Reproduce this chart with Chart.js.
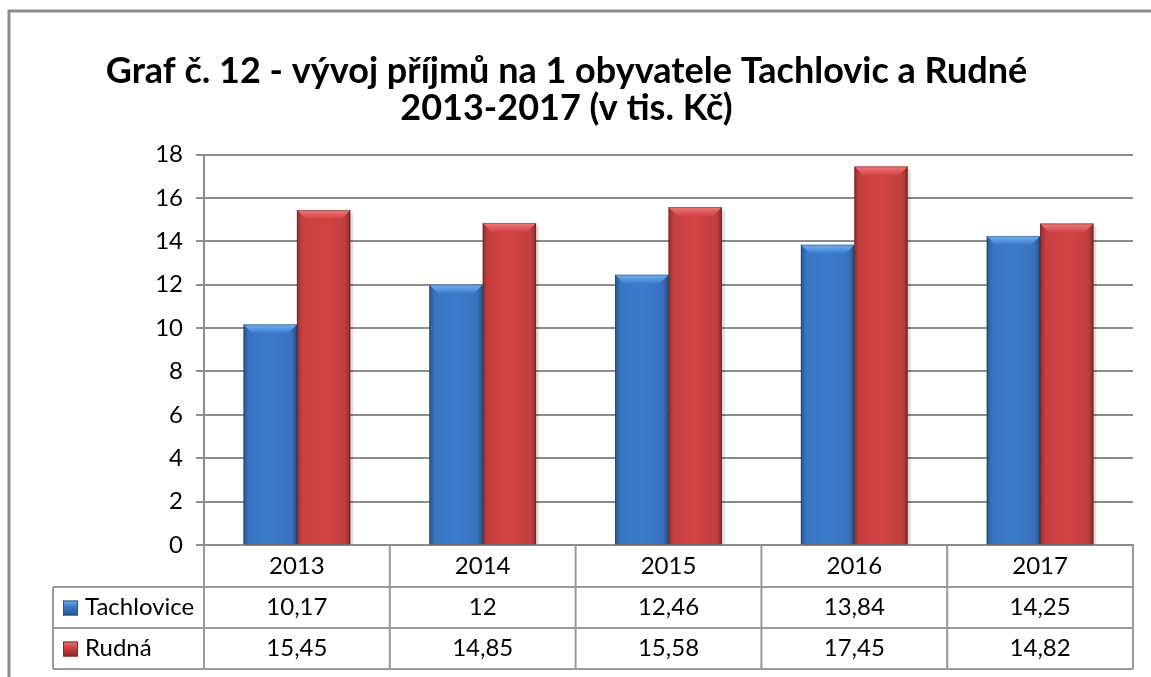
<!DOCTYPE html>
<html>
<head>
<meta charset="utf-8">
<script src="https://cdn.jsdelivr.net/npm/chart.js@4.4.1/dist/chart.umd.min.js"></script>
<style>
  html, body { margin: 0; padding: 0; background: #fff; }
  #wrap { width: 1151px; height: 677px; position: relative; }
</style>
</head>
<body>
<div id="wrap"><canvas id="graf"></canvas></div>
<script>
// data
const roky = ['2013', '2014', '2015', '2016', '2017'];
const tachlovice = [10.17, 12, 12.46, 13.84, 14.25];
const rudna = [15.45, 14.85, 15.58, 17.45, 14.82];
const nazvy = ['Tachlovice', 'Rudná'];
const titulek = ['Graf č. 12 - vývoj příjmů na 1 obyvatele Tachlovic a Rudné', '2013-2017 (v tis. Kč)'];
const osaY = [0, 2, 4, 6, 8, 10, 12, 14, 16, 18];

const FONT = 'Lato, "Open Sans", sans-serif';
const barvy = [
  { body: '#3c7bcd', dark: '#24558f', light: '#74b2ee' },
  { body: '#d24343', dark: '#8f2525', light: '#ee7a7a' }
];

const fmt = v => String(v).replace('.', ',');

// ramecek kolem grafu
const ramecek = {
  id: 'ramecek',
  beforeDraw(chart) {
    const ctx = chart.ctx;
    ctx.save();
    ctx.strokeStyle = '#8c8c8c';
    ctx.lineWidth = 3;
    ctx.strokeRect(9, 11, 1300, 800);
    ctx.restore();
  }
};

// 3D efekt sloupcu (zkoseny horni okraj, tmave hrany)
const bevel = {
  id: 'bevel',
  beforeDatasetsDraw(chart) {
    const ctx = chart.ctx;
    ctx.save();
    chart.data.datasets.forEach((ds, di) => {
      chart.getDatasetMeta(di).data.forEach(el => {
        const p = el.getProps(['x', 'y', 'base', 'width'], true);
        ctx.fillStyle = 'rgba(0,0,0,0.12)';
        ctx.fillRect(p.x - p.width / 2 + 3, p.y + 3, p.width, p.base - p.y - 3);
      });
    });
    ctx.restore();
  },
  afterDatasetsDraw(chart) {
    const ctx = chart.ctx;
    ctx.save();
    chart.data.datasets.forEach((ds, di) => {
      const c = barvy[di];
      chart.getDatasetMeta(di).data.forEach(el => {
        const p = el.getProps(['x', 'y', 'base', 'width'], true);
        const l = p.x - p.width / 2, r = p.x + p.width / 2, t = p.y, b = p.base;
        const g = ctx.createLinearGradient(l, 0, r, 0);
        g.addColorStop(0, 'rgba(0,0,0,0.3)');
        g.addColorStop(0.1, 'rgba(0,0,0,0.06)');
        g.addColorStop(0.5, 'rgba(0,0,0,0)');
        g.addColorStop(0.9, 'rgba(0,0,0,0.08)');
        g.addColorStop(1, 'rgba(0,0,0,0.35)');
        ctx.fillStyle = g;
        ctx.fillRect(l, t, r - l, b - t);
        const bv = 9;
        const gt = ctx.createLinearGradient(0, t, 0, t + bv);
        gt.addColorStop(0, c.light);
        gt.addColorStop(1, c.body);
        ctx.fillStyle = gt;
        ctx.beginPath();
        ctx.moveTo(l, t);
        ctx.lineTo(r, t);
        ctx.lineTo(r - bv, t + bv);
        ctx.lineTo(l + bv, t + bv);
        ctx.closePath();
        ctx.fill();
        ctx.strokeStyle = 'rgba(0,0,0,0.25)';
        ctx.lineWidth = 1;
        ctx.strokeRect(l + 0.5, t + 0.5, r - l - 1, b - t);
      });
    });
    ctx.restore();
  }
};

// tabulka dat pod grafem
const tabulka = {
  id: 'tabulka',
  afterDraw(chart) {
    const ctx = chart.ctx;
    const x = chart.scales.x;
    const n = roky.length;
    const cw = (x.right - x.left) / n;
    const rowH = 41;
    const top = chart.chartArea.bottom;
    const r1 = x.bottom;
    const leftX = 53;
    const radky = [tachlovice, rudna];
    ctx.save();
    ctx.strokeStyle = '#9a9a9a';
    ctx.lineWidth = 2;
    ctx.beginPath();
    for (let i = 0; i <= 2; i++) {
      ctx.moveTo(leftX, r1 + i * rowH);
      ctx.lineTo(x.right, r1 + i * rowH);
    }
    ctx.moveTo(leftX, r1);
    ctx.lineTo(leftX, r1 + 2 * rowH);
    for (let i = 0; i <= n; i++) {
      const xx = x.left + i * cw;
      ctx.moveTo(xx, top);
      ctx.lineTo(xx, r1 + 2 * rowH);
    }
    ctx.stroke();

    ctx.font = '24px ' + FONT;
    ctx.fillStyle = '#000';
    ctx.textBaseline = 'middle';
    radky.forEach((vals, ri) => {
      const cy = r1 + ri * rowH + rowH / 2;
      // legenda
      const c = barvy[ri];
      const kx = 63, ky = cy - 7, ks = 15;
      const gk = ctx.createLinearGradient(0, ky, 0, ky + ks);
      gk.addColorStop(0, c.light);
      gk.addColorStop(0.4, c.body);
      gk.addColorStop(1, c.dark);
      ctx.fillStyle = gk;
      ctx.fillRect(kx, ky, ks, ks);
      ctx.strokeStyle = c.dark;
      ctx.lineWidth = 1;
      ctx.strokeRect(kx + 0.5, ky + 0.5, ks - 1, ks - 1);
      ctx.fillStyle = '#000';
      ctx.textAlign = 'left';
      ctx.fillText(nazvy[ri], 85, cy);
      ctx.textAlign = 'center';
      vals.forEach((v, i) => {
        ctx.fillText(fmt(v), x.getPixelForValue(i), cy);
      });
    });
    ctx.restore();
  }
};

new Chart(document.getElementById('graf'), {
  type: 'bar',
  data: {
    labels: roky,
    datasets: [
      { label: nazvy[0], data: tachlovice, backgroundColor: barvy[0].body, borderWidth: 0 },
      { label: nazvy[1], data: rudna, backgroundColor: barvy[1].body, borderWidth: 0 }
    ]
  },
  options: {
    responsive: true,
    maintainAspectRatio: false,
    animation: false,
    categoryPercentage: 0.575,
    barPercentage: 1,
    layout: { padding: { left: 0, right: 18, top: 0, bottom: 90 } },
    plugins: {
      legend: { display: false },
      tooltip: { enabled: false },
      title: {
        display: true,
        text: titulek,
        color: '#000',
        font: { family: FONT, size: 36, weight: 'bold', lineHeight: 1.05 },
        padding: { top: 52, bottom: 27 }
      }
    },
    scales: {
      x: {
        grid: { display: false, drawTicks: false },
        border: { color: '#8c8c8c', width: 2 },
        ticks: { color: '#000', font: { family: FONT, size: 24 }, padding: 7 },
        afterFit(axis) { axis.height = 42; }
      },
      y: {
        min: 0,
        max: 18,
        afterBuildTicks(axis) { axis.ticks = osaY.map(v => ({ value: v })); },
        grid: { color: '#8c8c8c', lineWidth: 2, tickLength: 8 },
        border: { color: '#8c8c8c', width: 2 },
        ticks: { color: '#000', font: { family: FONT, size: 24 }, padding: 13 },
        afterFit(axis) { axis.width = 204; }
      }
    }
  },
  plugins: [ramecek, bevel, tabulka]
});
</script>
</body>
</html>
